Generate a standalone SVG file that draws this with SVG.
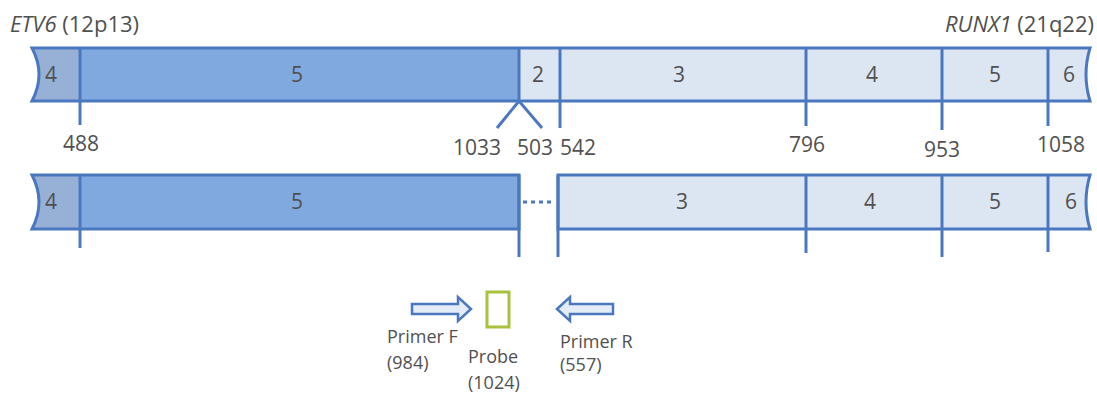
<svg xmlns="http://www.w3.org/2000/svg" width="1097" height="394" viewBox="0 0 1097 394">
<style>
.t{font-family:"Open Sans","Liberation Sans",sans-serif;fill:#505050;font-size:22px}
.n{font-family:"Open Sans","Liberation Sans",sans-serif;fill:#505050;font-size:21px;text-anchor:middle}
.p{font-family:"Open Sans","Liberation Sans",sans-serif;fill:#505050;font-size:18px}
.ol{fill:none;stroke:#4a78c0;stroke-width:3;stroke-linejoin:miter}
.ln{stroke:#4a78c0;stroke-width:3;fill:none}
.c4{fill:#96b0d6}
.c5{fill:#80aadf}
.lt{fill:#dce5f2}
.arr{fill:#e4ecf7;stroke:#4a78c0;stroke-width:2.5}
</style>
<rect width="1097" height="394" fill="#ffffff"/>
<text class="t" x="10" y="32"><tspan font-style="italic">ETV6</tspan> (12p13)</text>
<text class="t" x="1094" y="32" text-anchor="end"><tspan font-style="italic">RUNX1</tspan> (21q22)</text>

<g id="fusion-top">
  <path class="c4" d="M32,48 L80,48 L80,101 L32,101 Q46,74.5 32,48 Z"/>
  <rect class="c5" x="80" y="48" width="439" height="53"/>
  <path class="lt" d="M519,48 L1090,48 Q1082,74.5 1090,101 L519,101 Z"/>
  <path class="ol" d="M32,48 L1090,48 Q1082,74.5 1090,101 L32,101 Q46,74.5 32,48 Z"/>
  <line class="ln" x1="80" y1="48" x2="80" y2="125"/>
  <line class="ln" x1="519" y1="48" x2="519" y2="101"/>
  <polyline class="ln" points="497,128 519,101 542,128"/>
  <line class="ln" x1="560" y1="48" x2="560" y2="128"/>
  <line class="ln" x1="806" y1="48" x2="806" y2="126"/>
  <line class="ln" x1="942" y1="48" x2="942" y2="130"/>
  <line class="ln" x1="1048" y1="48" x2="1048" y2="126"/>
  <text class="n" x="51" y="82">4</text>
  <text class="n" x="297" y="82">5</text>
  <text class="n" x="538" y="82">2</text>
  <text class="n" x="679" y="82">3</text>
  <text class="n" x="872" y="82">4</text>
  <text class="n" x="995" y="82">5</text>
  <text class="n" x="1069" y="82">6</text>
  <text class="n" x="81" y="151">488</text>
  <text class="n" x="477" y="155">1033</text>
  <text class="n" x="535" y="155">503</text>
  <text class="n" x="578" y="155">542</text>
  <text class="n" x="807" y="152">796</text>
  <text class="n" x="942" y="157">953</text>
  <text class="n" x="1061" y="152">1058</text>
</g>

<g id="fusion-bottom-left">
  <path class="c4" d="M32,175 L80,175 L80,229 L32,229 Q46,202 32,175 Z"/>
  <rect class="c5" x="80" y="175" width="439" height="54"/>
  <path class="ol" d="M32,175 L519,175 L519,229 L32,229 Q46,202 32,175 Z"/>
  <line class="ln" x1="80" y1="175" x2="80" y2="248"/>
  <line class="ln" x1="519" y1="175" x2="519" y2="257"/>
  <text class="n" x="51" y="209">4</text>
  <text class="n" x="297" y="209">5</text>
</g>

<g id="fusion-bottom-right">
  <path class="lt" d="M558,175 L1090,175 Q1082,202 1090,229 L558,229 Z"/>
  <path class="ol" d="M558,175 L1090,175 Q1082,202 1090,229 L558,229 Z"/>
  <line class="ln" x1="558" y1="175" x2="558" y2="257"/>
  <line class="ln" x1="806" y1="175" x2="806" y2="253"/>
  <line class="ln" x1="942" y1="175" x2="942" y2="257"/>
  <line class="ln" x1="1048" y1="175" x2="1048" y2="252"/>
  <text class="n" x="682" y="209">3</text>
  <text class="n" x="870" y="209">4</text>
  <text class="n" x="995" y="209">5</text>
  <text class="n" x="1071" y="209">6</text>
</g>

<g id="connectors">
  <line x1="523" y1="202" x2="555" y2="202" stroke="#4a78c0" stroke-width="3" stroke-dasharray="4,4"/>
</g>

<g id="primer-f">
  <polygon class="arr" points="412,304 458,304 458,297 471,309 458,321 458,314 412,314"/>
  <text class="p" x="387" y="343">Primer F</text>
  <text class="p" x="387" y="369">(984)</text>
</g>
<g id="probe">
  <rect x="487" y="292" width="22" height="35" fill="#ffffff" stroke="#a8c23c" stroke-width="3"/>
  <text class="p" x="468" y="363">Probe</text>
  <text class="p" x="468" y="389">(1024)</text>
</g>
<g id="primer-r">
  <polygon class="arr" points="557,309 570,297 570,304 613,304 613,314 570,314 570,321"/>
  <text class="p" x="560" y="348">Primer R</text>
  <text class="p" x="560" y="371">(557)</text>
</g>
</svg>
